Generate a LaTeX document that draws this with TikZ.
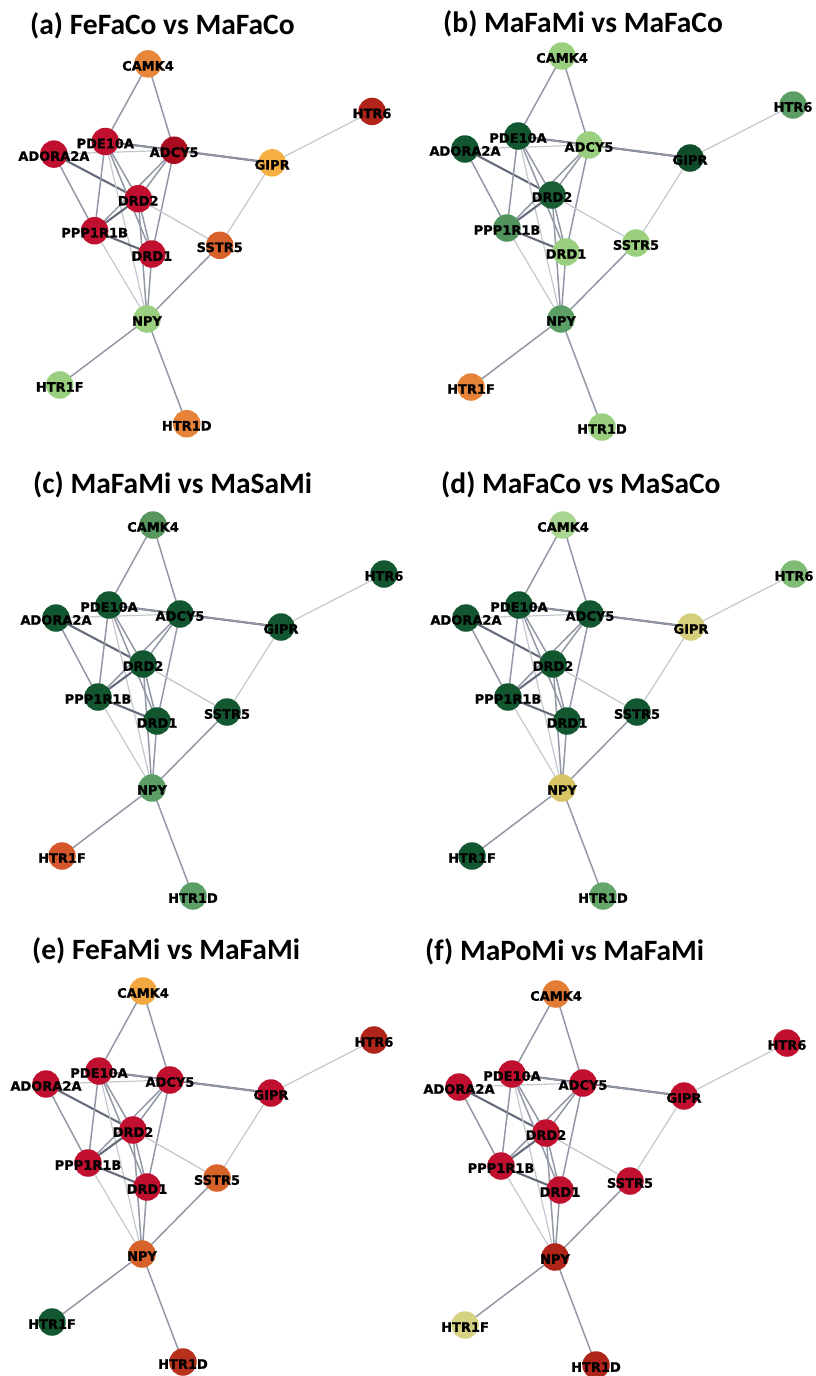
\documentclass[tikz,border=0pt]{standalone}
\usepackage{fontspec}
\setmainfont{Carlito}
\newfontfamily\genefont{DejaVu Sans}[BoldFeatures={FakeBold=1.2}]
\pgfdeclarelayer{bg}
\pgfsetlayers{bg,main}
% edge colours
\definecolor{edk}{HTML}{666B7C}
\definecolor{emd}{HTML}{9398A6}
\definecolor{elt}{HTML}{C4C7CF}
% palette
\definecolor{rd}{HTML}{C1102F}
\definecolor{drd}{HTML}{A90C1F}
\definecolor{brd}{HTML}{B0241A}
\definecolor{org}{HTML}{E8873A}
\definecolor{lorg}{HTML}{F6AF42}
\definecolor{orr}{HTML}{D8632A}
\definecolor{lgr}{HTML}{9ACF80}
\definecolor{mgr}{HTML}{5C9F66}
\definecolor{dgr}{HTML}{125730}
\definecolor{yel}{HTML}{D6C466}
\definecolor{lyel}{HTML}{D5D282}
% panel (a)
\colorlet{aCAMK4}{org}\colorlet{aHTR6}{brd}\colorlet{aPDE10A}{rd}\colorlet{aADORA2A}{rd}
\colorlet{aADCY5}{drd}\colorlet{aGIPR}{lorg}\colorlet{aDRD2}{rd}\colorlet{aPPP1R1B}{rd}
\colorlet{aDRD1}{rd}\colorlet{aSSTR5}{orr}\colorlet{aNPY}{lgr}\colorlet{aHTR1F}{lgr}\colorlet{aHTR1D}{org!90!orr}
% panel (b)
\colorlet{bCAMK4}{lgr}\colorlet{bHTR6}{mgr}\colorlet{bPDE10A}{dgr}\colorlet{bADORA2A}{dgr}
\colorlet{bADCY5}{lgr}\colorlet{bGIPR}{dgr!90!black}\colorlet{bDRD2}{dgr!90!mgr}\colorlet{bPPP1R1B}{mgr!85!dgr}
\colorlet{bDRD1}{lgr}\colorlet{bSSTR5}{lgr}\colorlet{bNPY}{mgr}\colorlet{bHTR1F}{org!90!orr}\colorlet{bHTR1D}{lgr}
% panel (c)
\colorlet{cCAMK4}{mgr!70!dgr!80!lgr}\colorlet{cHTR6}{dgr}\colorlet{cPDE10A}{dgr}\colorlet{cADORA2A}{dgr}
\colorlet{cADCY5}{dgr}\colorlet{cGIPR}{dgr}\colorlet{cDRD2}{dgr}\colorlet{cPPP1R1B}{dgr}
\colorlet{cDRD1}{dgr}\colorlet{cSSTR5}{dgr}\colorlet{cNPY}{mgr}\colorlet{cHTR1F}{orr!85!rd}\colorlet{cHTR1D}{mgr}
% panel (d)
\colorlet{dCAMK4}{lgr!85!white}\colorlet{dHTR6}{lgr!60!mgr}\colorlet{dPDE10A}{dgr}\colorlet{dADORA2A}{dgr}
\colorlet{dADCY5}{dgr}\colorlet{dGIPR}{lyel!80!yel}\colorlet{dDRD2}{dgr}\colorlet{dPPP1R1B}{dgr}
\colorlet{dDRD1}{dgr}\colorlet{dSSTR5}{dgr}\colorlet{dNPY}{yel}\colorlet{dHTR1F}{dgr}\colorlet{dHTR1D}{mgr!85!lgr}
% panel (e)
\colorlet{eCAMK4}{lorg!80!org}\colorlet{eHTR6}{brd}\colorlet{ePDE10A}{rd}\colorlet{eADORA2A}{rd}
\colorlet{eADCY5}{rd}\colorlet{eGIPR}{rd}\colorlet{eDRD2}{rd}\colorlet{ePPP1R1B}{rd}
\colorlet{eDRD1}{rd}\colorlet{eSSTR5}{orr}\colorlet{eNPY}{orr}\colorlet{eHTR1F}{dgr}\colorlet{eHTR1D}{brd!80!orr}
% panel (f)
\colorlet{fCAMK4}{org!70!orr}\colorlet{fHTR6}{rd}\colorlet{fPDE10A}{rd}\colorlet{fADORA2A}{rd}
\colorlet{fADCY5}{rd}\colorlet{fGIPR}{rd}\colorlet{fDRD2}{rd}\colorlet{fPPP1R1B}{rd}
\colorlet{fDRD1}{rd}\colorlet{fSSTR5}{rd}\colorlet{fNPY}{brd}\colorlet{fHTR1F}{lyel}\colorlet{fHTR1D}{brd}
\tikzset{
  gn/.style={circle, minimum size=27.5pt, inner sep=0pt, draw=none},
  gl/.style={font=\genefont\bfseries\fontsize{13}{13}\selectfont, text=black, inner sep=0pt, yshift=-2pt},
  ttl/.style={font=\bfseries\fontsize{29.5}{30}\selectfont, anchor=base west, inner sep=0pt},
  ethick/.style={draw=edk, line width=2.1pt},
  emid/.style={draw=emd, line width=1.5pt},
  elight/.style={draw=elt, line width=1.2pt},
}
\newcommand\gnet[4]{%
\begin{scope}[shift={(#2,#3)}, scale=#4]
  \node[gn, fill=#1CAMK4]   (#1CAMK4)   at (1,-263)   {};
  \node[gn, fill=#1HTR6]    (#1HTR6)    at (232,-214) {};
  \node[gn, fill=#1PDE10A]  (#1PDE10A)  at (-43,-183) {};
  \node[gn, fill=#1ADORA2A] (#1ADORA2A) at (-96,-170) {};
  \node[gn, fill=#1ADCY5]   (#1ADCY5)   at (28,-174)  {};
  \node[gn, fill=#1GIPR]    (#1GIPR)    at (129,-161) {};
  \node[gn, fill=#1DRD2]    (#1DRD2)    at (-9,-124)  {};
  \node[gn, fill=#1PPP1R1B] (#1PPP1R1B) at (-54,-91)  {};
  \node[gn, fill=#1DRD1]    (#1DRD1)    at (5,-67)    {};
  \node[gn, fill=#1SSTR5]   (#1SSTR5)   at (75,-76)   {};
  \node[gn, fill=#1NPY]     (#1NPY)     at (0,0)      {};
  \node[gn, fill=#1HTR1F]   (#1HTR1F)   at (-90,68)   {};
  \node[gn, fill=#1HTR1D]   (#1HTR1D)   at (41,108)   {};
  \begin{pgfonlayer}{bg}
    \draw[emid]   (#1CAMK4.center) -- (#1PDE10A.center);
    \draw[emid]   (#1CAMK4.center) -- (#1ADCY5.center);
    \draw[elight] (#1HTR6.center) -- (#1GIPR.center);
    \draw[ethick] (#1PDE10A.center) -- (#1ADCY5.center);
    \draw[elight] (#1ADORA2A.center) -- (#1ADCY5.center);
    \draw[ethick] (#1ADCY5.center) -- (#1GIPR.center);
    \draw[emid]   (#1PDE10A.center) -- (#1GIPR.center);
    \draw[ethick] (#1ADORA2A.center) -- (#1DRD2.center);
    \draw[emid]   (#1ADORA2A.center) -- (#1PPP1R1B.center);
    \draw[emid]   (#1PDE10A.center) -- (#1PPP1R1B.center);
    \draw[emid]   (#1PDE10A.center) -- (#1DRD2.center);
    \draw[emid]   (#1PDE10A.center) -- (#1DRD1.center);
    \draw[elight] (#1PDE10A.center) -- (#1NPY.center);
    \draw[emid]   (#1ADCY5.center) -- (#1DRD2.center);
    \draw[emid]   (#1ADCY5.center) -- (#1PPP1R1B.center);
    \draw[emid]   (#1ADCY5.center) -- (#1DRD1.center);
    \draw[ethick] (#1DRD2.center) -- (#1PPP1R1B.center);
    \draw[emid]   (#1DRD2.center) -- (#1DRD1.center);
    \draw[emid]   (#1DRD2.center) -- (#1NPY.center);
    \draw[elight, line width=1.3pt] (#1DRD2.center) -- (#1SSTR5.center);
    \draw[ethick] (#1PPP1R1B.center) -- (#1DRD1.center);
    \draw[elight] (#1PPP1R1B.center) -- (#1NPY.center);
    \draw[emid]   (#1DRD1.center) -- (#1NPY.center);
    \draw[emid]   (#1SSTR5.center) -- (#1NPY.center);
    \draw[elight] (#1SSTR5.center) -- (#1GIPR.center);
    \draw[emid]   (#1NPY.center) -- (#1HTR1F.center);
    \draw[emid]   (#1NPY.center) -- (#1HTR1D.center);
  \end{pgfonlayer}
  \node[gl] (#1CAMK4-l)   at (#1CAMK4)   {CAMK4};
  \node[gl] (#1HTR6-l)    at (#1HTR6)    {HTR6};
  \node[gl] (#1PDE10A-l)  at (#1PDE10A)  {PDE10A};
  \node[gl] (#1ADORA2A-l) at (#1ADORA2A) {ADORA2A};
  \node[gl] (#1ADCY5-l)   at (#1ADCY5)   {ADCY5};
  \node[gl] (#1GIPR-l)    at (#1GIPR)    {GIPR};
  \node[gl] (#1DRD2-l)    at (#1DRD2)    {DRD2};
  \node[gl] (#1PPP1R1B-l) at (#1PPP1R1B) {PPP1R1B};
  \node[gl] (#1DRD1-l)    at (#1DRD1)    {DRD1};
  \node[gl] (#1SSTR5-l)   at (#1SSTR5)   {SSTR5};
  \node[gl] (#1NPY-l)     at (#1NPY)     {NPY};
  \node[gl] (#1HTR1F-l)   at (#1HTR1F)   {HTR1F};
  \node[gl] (#1HTR1D-l)   at (#1HTR1D)   {HTR1D};
\end{scope}}
\begin{document}
\begin{tikzpicture}[x=1pt, y=-1pt]
  \useasboundingbox (0,0) rectangle (816,1376);
  \node[ttl] (ta) at (30,34)   {(a) FeFaCo vs MaFaCo};
  \node[ttl] (tb) at (443,32)  {(b) MaFaMi vs MaFaCo};
  \node[ttl] (tc) at (33,493)  {(c) MaFaMi vs MaSaMi};
  \node[ttl] (td) at (441,493) {(d) MaFaCo vs MaSaCo};
  \node[ttl] (te) at (32,959)  {(e) FeFaMi vs MaFaMi};
  \node[ttl] (tf) at (425,960) {(f) MaPoMi vs MaFaMi};
  \gnet{a}{147}{319}{0.97}
  \gnet{b}{561}{319}{1}
  \gnet{c}{152}{788}{1}
  \gnet{d}{562}{788}{1}
  \gnet{e}{142}{1254}{1}
  \gnet{f}{555}{1257}{1}
\end{tikzpicture}
\end{document}
